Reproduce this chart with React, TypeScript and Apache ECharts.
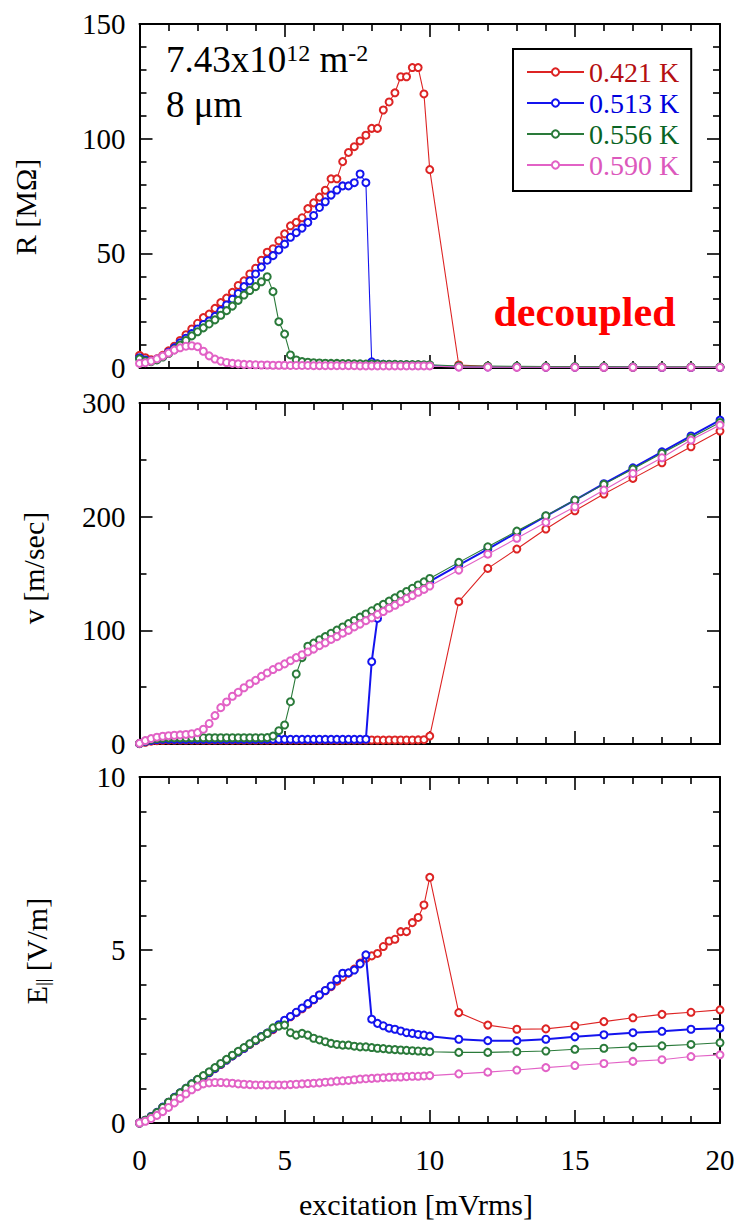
import React, { useEffect, useRef } from 'react';
import * as echarts from 'echarts';

// ---------- data ----------
const EXCITATION = [
  0, 0.2, 0.4, 0.6, 0.8, 1, 1.2, 1.4, 1.6, 1.8,
  2, 2.2, 2.4, 2.6, 2.8, 3, 3.2, 3.4, 3.6, 3.8,
  4, 4.2, 4.4, 4.6, 4.8, 5, 5.2, 5.4, 5.6, 5.8,
  6, 6.2, 6.4, 6.6, 6.8, 7, 7.2, 7.4, 7.6, 7.8,
  8, 8.2, 8.4, 8.6, 8.8, 9, 9.2, 9.4, 9.6, 9.8,
  10, 11, 12, 13, 14, 15, 16, 17, 18, 19, 20,
];

const TEMPS = ['0.421 K', '0.513 K', '0.556 K', '0.590 K'];

// R [MOhm]
const R_0421 = [
  5.5, 4.5, 3.6, 4.0, 5.5, 7.5, 9.5, 12, 14.5, 17,
  19.5, 22, 23.5, 26, 28.5, 30.5, 33, 36, 38, 41,
  43.5, 47, 50.5, 52, 55.5, 58.5, 62, 63.5, 65.5, 69.5,
  72, 74.5, 77.5, 82.5, 82.5, 90, 94, 96.5, 99, 101.5,
  104.5, 104.5, 112.5, 116, 120, 127, 127, 131, 131, 119.5,
  86.5, 1.3, 0.7, 0.5, 0.4, 0.4, 0.3, 0.3, 0.3, 0.3, 0.3,
];
const R_0513 = [
  4.5, 3.5, 3.0, 3.8, 5.0, 6.8, 8.8, 11, 13, 15,
  17, 19, 20.5, 22.5, 25, 27.5, 30, 32.5, 35.5, 38,
  41, 44, 47, 49, 51.5, 54, 57, 59, 61, 63.5,
  66.5, 70, 72.5, 75.4, 77.6, 79.4, 79.4, 80.8, 84.6, 80.8,
  2.7, 1.8, 1.6, 1.5, 1.4, 1.3, 1.3, 1.2, 1.2, 1.1,
  1.1, 0.6, 0.5, 0.5, 0.4, 0.4, 0.4, 0.4, 0.3, 0.3, 0.3,
];
const R_0556 = [
  4.0, 3.0, 2.8, 3.5, 4.8, 6.3, 8.0, 10, 12, 14,
  15.8, 17.5, 19.2, 21, 23, 25, 27, 29.5, 31.8, 33.8,
  35.5, 37.6, 39.8, 33.3, 20.2, 14.8, 5.7, 3.5, 2.8, 2.5,
  2.3, 2.2, 2.1, 2.0, 2.0, 1.9, 1.9, 1.8, 1.8, 1.7,
  1.7, 1.7, 1.6, 1.6, 1.6, 1.5, 1.5, 1.5, 1.5, 1.4,
  1.4, 0.9, 0.8, 0.7, 0.6, 0.6, 0.6, 0.5, 0.5, 0.5, 0.5,
];
const R_0590 = [
  2.0, 2.3, 3.0, 4.0, 5.2, 6.5, 7.8, 8.8, 9.5, 9.7,
  9.3, 7.3, 5.3, 3.9, 3.0, 2.4, 2.0, 1.8, 1.6, 1.5,
  1.4, 1.3, 1.3, 1.2, 1.2, 1.2, 1.1, 1.1, 1.1, 1.1,
  1.0, 1.0, 1.0, 1.0, 1.0, 1.0, 1.0, 1.0, 0.9, 0.9,
  0.9, 0.9, 0.9, 0.9, 0.9, 0.9, 0.9, 0.9, 0.9, 0.9,
  0.9, 0.4, 0.4, 0.3, 0.3, 0.3, 0.3, 0.3, 0.3, 0.3, 0.3,
];

// v [m/sec]
const V_0421 = [
  0.3, 1.5, 2.5, 3.0, 3.3, 3.4, 3.5, 3.5, 3.5, 3.5,
  3.5, 3.5, 3.4, 3.5, 3.5, 3.5, 3.4, 3.5, 3.5, 3.5,
  3.5, 3.5, 3.5, 3.4, 3.5, 3.5, 3.5, 3.5, 3.4, 3.5,
  3.5, 3.5, 3.5, 3.5, 3.4, 3.5, 3.5, 3.5, 3.5, 3.5,
  3.5, 3.5, 3.4, 3.5, 3.5, 3.5, 3.5, 3.5, 3.6, 3.8,
  7.0, 125.2, 154.5, 171.5, 189.1, 205.2, 219.9, 233.7, 247.4, 261.5, 275.3,
];
const V_0513 = [
  0.4, 2.0, 3.2, 3.8, 4.0, 4.1, 4.1, 4.1, 4.1, 4.1,
  4.1, 4.1, 4.1, 4.1, 4.1, 4.1, 4.1, 4.1, 4.1, 4.1,
  4.1, 4.1, 4.1, 4.1, 4.1, 4.1, 4.1, 4.1, 4.1, 4.1,
  4.1, 4.1, 4.1, 4.1, 4.1, 4.1, 4.1, 4.1, 4.1, 4.2,
  72.4, 110.5, 118, 121.5, 125, 128, 131, 134, 137, 140,
  143, 157.4, 171.5, 186, 200.5, 214.5, 229, 243, 257, 271, 285,
];
const V_0556 = [
  0.5, 2.6, 4.0, 4.8, 5.2, 5.4, 5.5, 5.5, 5.5, 5.5,
  5.5, 5.5, 5.5, 5.5, 5.5, 5.5, 5.5, 5.5, 5.5, 5.5,
  5.5, 5.5, 5.6, 7.0, 11.7, 16.7, 37.2, 61.6, 76, 86,
  88.8, 91.7, 94.5, 97.4, 100.2, 103, 105.9, 108.7, 111.6, 114.4,
  117.2, 120, 122.9, 125.7, 128.6, 131.4, 134.2, 137, 139.9, 142.7,
  145.6, 159.8, 173.5, 187.3, 200.8, 214.6, 228.4, 241.9, 255.7, 269.4, 282.9,
];
const V_0590 = [
  0.6, 3.0, 4.8, 6.0, 6.8, 7.3, 7.7, 8.0, 8.4, 9.0,
  10, 13, 18, 25, 32, 37, 42, 45.5, 49.5, 53,
  56, 59.5, 62.5, 65.5, 68, 70.5, 73.3, 76, 78.5, 81,
  83.5, 86.5, 89, 92, 94.5, 97.5, 100, 103, 105.5, 108.5,
  111, 114, 116.5, 119.5, 122, 125, 128, 130.5, 133.5, 136,
  139, 153, 167, 181, 195, 208.7, 223.4, 238, 251.8, 267.4, 280.6,
];

// E|| [V/m]
const E_0421 = [
  0, 0.08, 0.18, 0.3, 0.45, 0.6, 0.73, 0.86, 0.99, 1.12,
  1.24, 1.34, 1.45, 1.57, 1.69, 1.82, 1.94, 2.05, 2.16, 2.27,
  2.38, 2.49, 2.59, 2.7, 2.82, 2.95, 3.07, 3.19, 3.3, 3.43,
  3.56, 3.7, 3.82, 3.94, 4.1, 4.22, 4.33, 4.45, 4.62, 4.76,
  4.83, 4.9, 5.1, 5.26, 5.31, 5.53, 5.53, 5.79, 5.94, 6.3,
  7.1, 3.19, 2.83, 2.71, 2.72, 2.81, 2.93, 3.04, 3.14, 3.2, 3.27,
];
const E_0513 = [
  0, 0.08, 0.19, 0.31, 0.46, 0.6, 0.74, 0.87, 1.0, 1.13,
  1.25, 1.35, 1.46, 1.58, 1.7, 1.82, 1.94, 2.05, 2.16, 2.28,
  2.39, 2.5, 2.6, 2.72, 2.84, 2.97, 3.08, 3.2, 3.32, 3.45,
  3.57, 3.7, 3.83, 3.96, 4.15, 4.33, 4.34, 4.42, 4.6, 4.86,
  3.0, 2.88, 2.81, 2.74, 2.71, 2.66, 2.61, 2.59, 2.56, 2.54,
  2.51, 2.42, 2.38, 2.38, 2.42, 2.49, 2.55, 2.61, 2.65, 2.71, 2.74,
];
const E_0556 = [
  0, 0.08, 0.18, 0.3, 0.45, 0.6, 0.73, 0.87, 1.0, 1.13,
  1.26, 1.37, 1.48, 1.6, 1.72, 1.84, 1.96, 2.07, 2.18, 2.29,
  2.4, 2.49, 2.59, 2.75, 2.8, 2.83, 2.61, 2.54, 2.59, 2.54,
  2.45, 2.4, 2.35, 2.3, 2.27, 2.25, 2.25, 2.22, 2.2, 2.2,
  2.18, 2.16, 2.15, 2.13, 2.12, 2.11, 2.1, 2.09, 2.08, 2.07,
  2.06, 2.04, 2.04, 2.06, 2.08, 2.13, 2.16, 2.2, 2.23, 2.27, 2.32,
];
const E_0590 = [
  0, 0.05, 0.13, 0.22, 0.33, 0.45, 0.58, 0.71, 0.84, 0.96,
  1.05, 1.13, 1.16, 1.17, 1.17, 1.16, 1.15, 1.13, 1.12, 1.11,
  1.1, 1.1, 1.1, 1.1, 1.1, 1.1, 1.11, 1.12, 1.13, 1.14,
  1.15, 1.16, 1.18, 1.19, 1.21, 1.22, 1.23, 1.25, 1.27, 1.28,
  1.29, 1.3, 1.31, 1.32, 1.33, 1.33, 1.34, 1.35, 1.35, 1.36,
  1.37, 1.42, 1.47, 1.53, 1.6, 1.66, 1.72, 1.78, 1.83, 1.92, 1.97,
];

const X_RANGE = [0, 20];
const Y_RANGES = [[0, 150], [0, 300], [0, 10]];
const Y_INTERVALS = [50, 100, 5];
const Y_MINOR_SPLITS = [5, 2, 5];

// ---------- styles ----------
const SERIF = '"Liberation Serif", "Times New Roman", Times, serif';
const LINE_COLORS = ['#dd2424', '#1414ee', '#2a7a3a', '#e262c6'];
const TEXT_COLORS = ['#b50f12', '#0000dc', '#0a6424', '#dc58bc'];
const GRID_TOPS = [24, 403, 777];
const GRID_HEIGHTS = [344, 341, 346];
const GRID_LEFT = 139.5;
const GRID_WIDTH = 580.5;

function axisCommon(minorSplit: number) {
  return {
    axisLine: { show: true, onZero: false, lineStyle: { color: '#000', width: 2 } },
    axisTick: { show: true, inside: true, length: 13, lineStyle: { color: '#000', width: 1.6 } },
    minorTick: { show: true, splitNumber: minorSplit, length: 7, lineStyle: { color: '#000', width: 1.6 } },
    splitLine: { show: false },
    minorSplitLine: { show: false },
  };
}

export default function App() {
  const ref = useRef<HTMLDivElement>(null);

  useEffect(() => {
    if (!ref.current) return;
    const chart = echarts.init(ref.current, undefined, { renderer: 'svg' });

    const grids = GRID_TOPS.map((top, p) => ({
      left: GRID_LEFT,
      width: GRID_WIDTH,
      top,
      height: GRID_HEIGHTS[p],
      containLabel: false,
    }));

    const xAxes: any[] = [];
    const yAxes: any[] = [];
    ['bottom', 'top'].forEach((pos) => {
      for (let p = 0; p < 3; p++) {
        xAxes.push({
          type: 'value',
          gridIndex: p,
          position: pos,
          min: X_RANGE[0],
          max: X_RANGE[1],
          interval: 5,
          ...axisCommon(5),
          axisLabel: {
            show: pos === 'bottom' && p === 2,
            margin: 22,
            color: '#000',
            fontFamily: SERIF,
            fontSize: 29,
          },
        });
      }
    });
    ['left', 'right'].forEach((pos) => {
      for (let p = 0; p < 3; p++) {
        yAxes.push({
          type: 'value',
          gridIndex: p,
          position: pos,
          min: Y_RANGES[p][0],
          max: Y_RANGES[p][1],
          interval: Y_INTERVALS[p],
          ...axisCommon(Y_MINOR_SPLITS[p]),
          axisLabel: {
            show: pos === 'left',
            margin: 14,
            color: '#000',
            fontFamily: SERIF,
            fontSize: 29,
          },
        });
      }
    });

    const panels = [
      [R_0421, R_0513, R_0556, R_0590],
      [V_0421, V_0513, V_0556, V_0590],
      [E_0421, E_0513, E_0556, E_0590],
    ];
    const series: any[] = [];
    panels.forEach((arrs, p) => {
      arrs.forEach((ys, k) => {
        series.push({
          type: 'line',
          name: TEMPS[k],
          xAxisIndex: p,
          yAxisIndex: p,
          data: EXCITATION.map((x, i) => [x, ys[i]]),
          symbol: 'emptyCircle',
          symbolSize: 7,
          showSymbol: true,
          showAllSymbol: true,
          lineStyle: { color: LINE_COLORS[k], width: k === 1 && p > 0 ? 2 : 1.1 },
          itemStyle: { color: LINE_COLORS[k], borderColor: LINE_COLORS[k], borderWidth: 1.1 },
          emphasis: { disabled: true },
          z: 2 + k,
        });
      });
    });

    const graphic: any[] = [
      {
        type: 'text',
        x: 166,
        y: 59,
        style: {
          text: '{a|7.43x10}{s|12}{a| m}{s|-2}',
          align: 'left',
          verticalAlign: 'middle',
          fill: '#000',
          rich: {
            a: { fontFamily: SERIF, fontSize: 37, fill: '#000', color: '#000', lineHeight: 37 },
            s: { fontFamily: SERIF, fontSize: 24, fill: '#000', color: '#000', verticalAlign: 'top', lineHeight: 24 },
          },
        },
      },
      {
        type: 'text',
        x: 166,
        y: 104,
        style: { text: '8 μm', fontFamily: SERIF, fontSize: 37, fill: '#000', align: 'left', verticalAlign: 'middle' },
      },
      {
        type: 'text',
        x: 584.5,
        y: 311.5,
        style: {
          text: 'decoupled',
          fontFamily: SERIF,
          fontSize: 42,
          fontWeight: 'bold',
          fill: '#ff0000',
          align: 'center',
          verticalAlign: 'middle',
        },
      },
      {
        type: 'text',
        x: 25,
        y: 207,
        rotation: Math.PI / 2,
        style: { text: 'R [MΩ]', fontFamily: SERIF, fontSize: 30, fill: '#000', align: 'center', verticalAlign: 'middle' },
      },
      {
        type: 'text',
        x: 33,
        y: 568,
        rotation: Math.PI / 2,
        style: { text: 'v [m/sec]', fontFamily: SERIF, fontSize: 30, fill: '#000', align: 'center', verticalAlign: 'middle' },
      },
      {
        type: 'text',
        x: 36.5,
        y: 951,
        rotation: Math.PI / 2,
        style: {
          text: '{a|E}{s|||}{a| [V/m]}',
          align: 'center',
          verticalAlign: 'middle',
          fill: '#000',
          rich: {
            a: { fontFamily: SERIF, fontSize: 30, fill: '#000', color: '#000', lineHeight: 30 },
            s: { fontFamily: SERIF, fontSize: 18, fill: '#000', color: '#000', verticalAlign: 'bottom', lineHeight: 18, padding: [14, 0, 0, 0] },
          },
        },
      },
      {
        type: 'text',
        x: 416,
        y: 1204,
        style: {
          text: 'excitation [mVrms]',
          fontFamily: SERIF,
          fontSize: 30,
          fill: '#000',
          align: 'center',
          verticalAlign: 'middle',
        },
      },
    ];

    chart.setOption({
      animation: false,
      backgroundColor: '#fff',
      grid: grids,
      xAxis: xAxes,
      yAxis: yAxes,
      legend: {
        orient: 'vertical',
        left: 513,
        top: 49,
        data: TEMPS.map((n, k) => ({ name: n, textStyle: { color: TEXT_COLORS[k] } })),
        itemWidth: 57,
        itemHeight: 9,
        itemGap: 3,
        textStyle: { fontFamily: SERIF, fontSize: 28, lineHeight: 28 },
        borderColor: '#000',
        borderWidth: 2,
        padding: [9, 12, 12, 13],
        selectedMode: false,
        backgroundColor: '#fff',
      },
      graphic,
      series,
    });

    return () => chart.dispose();
  }, []);

  return (
    <div
      ref={ref}
      style={{ position: 'absolute', left: 0, top: 0, width: 739, height: 1222, background: '#fff' }}
    />
  );
}
